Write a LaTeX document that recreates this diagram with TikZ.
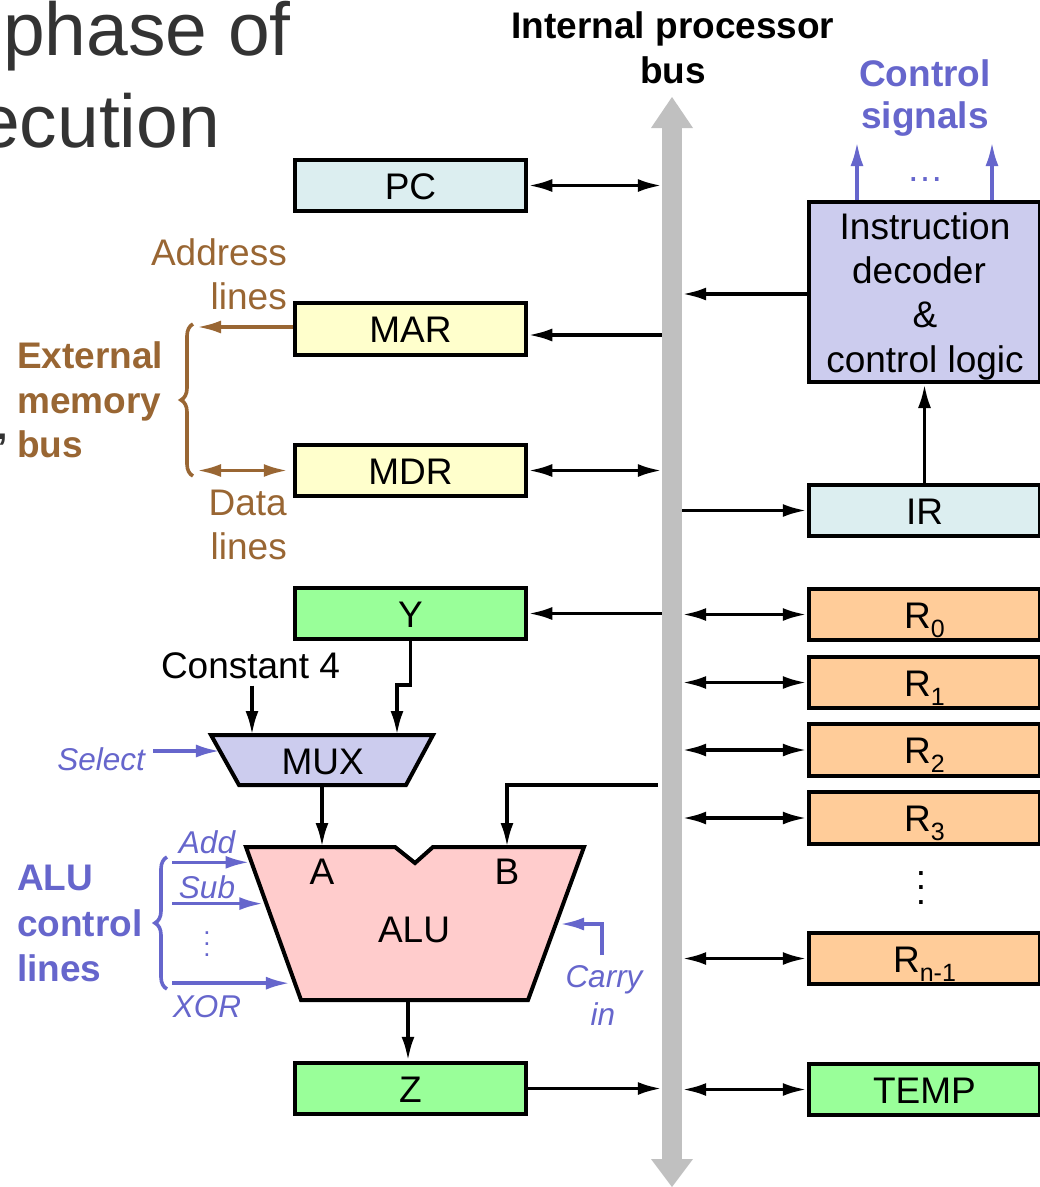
\documentclass[tikz,border=0pt]{standalone}
\usepackage{fontspec}
\setmainfont{Liberation Sans}
\usetikzlibrary{arrows.meta,decorations.pathreplacing,calc}
\definecolor{ctlblue}{HTML}{6666CC}
\definecolor{membrown}{HTML}{996633}
\definecolor{pcfill}{HTML}{DCEEF0}
\definecolor{regfill}{HTML}{FFCC99}
\definecolor{grnfill}{HTML}{99FF99}
\definecolor{memfill}{HTML}{FFFFCC}
\definecolor{alufill}{HTML}{FFCCCC}
\definecolor{muxfill}{HTML}{CCCCEE}
\definecolor{busgray}{HTML}{C0C0C0}
\definecolor{titlegray}{HTML}{333333}
\newcommand{\mainfs}{\fontsize{37}{44}\selectfont}
\newcommand{\smallfs}{\fontsize{31.5}{36}\selectfont}
\newcommand{\rsub}[1]{\raisebox{-9pt}{\fontsize{25}{25}\selectfont #1}}
\begin{document}
\begin{tikzpicture}[x=1pt,y=-1pt,
  >={Latex[length=24pt,width=13pt]},
  box/.style={draw=black,line width=4pt,minimum width=231.5pt,minimum height=51.5pt,inner sep=0pt,text height=27pt,text depth=0pt,font=\mainfs},
  conn/.style={line width=3.6pt,draw=black},
  ctl/.style={line width=3.6pt,draw=ctlblue},
  mem/.style={line width=3.6pt,draw=membrown},
  txt/.style={inner sep=0pt,anchor=base,font=\mainfs},
  btxt/.style={inner sep=0pt,anchor=base,font=\mainfs\bfseries},
  itxt/.style={inner sep=0pt,anchor=base,font=\smallfs\itshape,text=ctlblue},
  outl/.style={draw=black,line width=4pt,line join=miter}
]
\clip (0,0) rectangle (1040,1187);
\fill[white] (0,0) rectangle (1040,1187);

% title fragments
\node[inner sep=0pt,anchor=base west,text=titlegray,font=\fontsize{75}{88}\selectfont] (title1) at (3,55) {phase of};
\node[inner sep=0pt,anchor=base west,text=titlegray,font=\fontsize{75}{88}\selectfont] (title2) at (-22,147) {ecution};
\node[inner sep=0pt,anchor=base west,text=titlegray,font=\mainfs\bfseries] (comma) at (-3,439) {,};

% bus
\node[fill=busgray,minimum width=20pt,minimum height=1032pt,inner sep=0pt] (bus) at (672,644) {};
\fill[busgray] (651,128) -- (672,97) -- (693,128) -- cycle;
\fill[busgray] (651,1159) -- (672,1187) -- (693,1159) -- cycle;
\node[btxt] (bustxt1) at (673,38) {Internal processor};
\node[btxt] (bustxt2) at (673,83) {bus};

% left registers
\node[box,fill=pcfill] (PC) at (410.5,185.5) {PC};
\node[box,fill=memfill] (MAR) at (410.5,329) {MAR};
\node[box,fill=memfill] (MDR) at (410.5,470.5) {MDR};
\node[box,fill=grnfill] (Y) at (410.5,613.5) {Y};
\node[box,fill=grnfill] (Z) at (410.5,1088.5) {Z};

% right side
\node[box,fill=muxfill,minimum height=180pt] (dec) at (924.5,292) {};
\node[txt] (dec1) at (925,239) {Instruction};
\node[txt] (dec2) at (919,283) {decoder};
\node[txt] (dec3) at (925,327) {\&};
\node[txt] (dec4) at (925,372) {control logic};
\node[box,fill=pcfill] (IR) at (924.5,510.5) {IR};
\node[box,fill=regfill] (R0) at (924.5,614.5) {R\rsub{0}};
\node[box,fill=regfill] (R1) at (924.5,682.5) {R\rsub{1}};
\node[box,fill=regfill] (R2) at (924.5,750) {R\rsub{2}};
\node[box,fill=regfill] (R3) at (924.5,818) {R\rsub{3}};
\node[inner sep=0pt,align=center,font=\fontsize{37}{14.5}\selectfont] (rdots) at (921,888) {.\\.\\.};
\node[box,fill=regfill] (Rn) at (924.5,958.5) {R\rsub{n-1}};
\node[box,fill=grnfill] (TEMP) at (924.5,1089.5) {TEMP};

% control signals
\node[btxt,text=ctlblue] (cs1) at (925,86) {Control};
\node[btxt,text=ctlblue] (cs2) at (925,128) {signals};
\node[txt,text=ctlblue] (csdots) at (925,181) {…};
\draw[ctl,->] ([xshift=-67.5pt]dec.north) -- ++(0,-58);
\draw[ctl,->] ([xshift=67.5pt]dec.north) -- ++(0,-58);

% bus connections
\draw[conn,<->] (PC.east) -- (PC.east -| bus.west);
\draw[conn,->] ([yshift=-6pt]MAR.east -| bus.west) -- ([yshift=-6pt]MAR.east);
\draw[conn,<->] (MDR.east) -- (MDR.east -| bus.west);
\draw[conn,->] (Y.east -| bus.west) -- (Y.east);
\draw[conn,->] (Z.east) -- (Z.east -| bus.west);
\draw[conn,->] ([yshift=-2pt]dec.west) -- ([yshift=-2pt]dec.west -| bus.east);
\draw[conn,->] (IR.west -| bus.east) -- (IR.west);
\draw[conn,->] (IR.north) -- (dec.south);
\draw[conn,<->] (R0.west -| bus.east) -- (R0.west);
\draw[conn,<->] (R1.west -| bus.east) -- (R1.west);
\draw[conn,<->] (R2.west -| bus.east) -- (R2.west);
\draw[conn,<->] (R3.west -| bus.east) -- (R3.west);
\draw[conn,<->] (Rn.west -| bus.east) -- (Rn.west);
\draw[conn,<->] (TEMP.west -| bus.east) -- (TEMP.west);

% external memory bus
\coordinate (addrEnd) at (197,327);
\coordinate (dataEnd) at (197,470);
\draw[mem,->] ([yshift=2pt]MAR.west) -- ([yshift=2pt]MAR.west -| addrEnd);
\draw[mem,<->,shorten >=5pt] (MDR.west -| dataEnd) -- (MDR.west);
\draw[mem,decorate,decoration={brace,amplitude=12pt}] (193,476) -- (193,324);
\node[txt,anchor=base east,text=membrown] (addr1) at (287,265) {Address};
\node[txt,anchor=base east,text=membrown] (addr2) at (287,309) {lines};
\node[txt,anchor=base east,text=membrown] (data1) at (287,515) {Data};
\node[txt,anchor=base east,text=membrown] (data2) at (287,559) {lines};
\node[btxt,anchor=base west,text=membrown] (ext1) at (17,368) {External};
\node[btxt,anchor=base west,text=membrown] (ext2) at (17,413) {memory};
\node[btxt,anchor=base west,text=membrown] (ext3) at (17,457) {bus};

% MUX
\coordinate (muxTL) at (211,735);
\coordinate (muxTR) at (433,735);
\coordinate (muxBR) at (406,785);
\coordinate (muxBL) at (239,785);
\draw[outl,fill=muxfill] (muxTL) -- (muxTR) -- (muxBR) -- (muxBL) -- cycle;
\node[txt] (muxlbl) at (322.7,774) {MUX};
\node[txt] (const) at (250.5,678) {Constant 4};
\coordinate (muxInA) at (252,735);
\coordinate (muxInB) at (397,735);
\draw[conn,->,shorten <=7pt] (const.south -| muxInA) -- (muxInA);
\draw[conn,->] (Y.south) -- ++(0,43.5) -| (muxInB);
\node[itxt,anchor=base east] (sel) at (145,770) {Select};
\coordinate (selIn) at ($(muxTL)!0.32!(muxBL)$);
\draw[ctl,->] (sel.east |- selIn) ++(8,0) -- (selIn);

% ALU
\coordinate (aluTL) at (246,847);
\coordinate (aluTR) at (584,847);
\coordinate (aluBR) at (528,1000);
\coordinate (aluBL) at (301,1000);
\draw[outl,fill=alufill] (aluTL) -- (395,847) -- (415,863) -- (433,847) -- (aluTR) -- (aluBR) -- (aluBL) -- cycle;
\node[txt] (alulbl) at (414,942) {ALU};
\node[txt] (Albl) at (322,884) {A};
\node[txt] (Blbl) at (507,884) {B};
\coordinate (muxOut) at (322,785);
\coordinate (aIn) at (322,847);
\coordinate (bIn) at (507,847);
\coordinate (aluOut) at (408,1000);
\coordinate (bRow) at (0,785);
\draw[conn,->] (muxOut) -- (aIn);
\draw[conn,->] ([xshift=-4pt]bus.west |- bRow) -| (bIn);
\draw[conn,->] (aluOut) -- (aluOut |- Z.north);

% ALU control lines
\coordinate (addIn) at ($(aluTL)!0.10!(aluBL)$);
\coordinate (subIn) at ($(aluTL)!0.37!(aluBL)$);
\coordinate (xorIn) at ($(aluTL)!0.89!(aluBL)$);
\coordinate (ctlStart) at (172,0);
\draw[ctl,->,shorten >=2pt] (ctlStart |- addIn) -- (addIn);
\draw[ctl,->,shorten >=3pt] (ctlStart |- subIn) -- (subIn);
\draw[ctl,->,shorten >=5pt] (ctlStart |- xorIn) -- (xorIn);
\node[itxt] (addl) at (207,853) {Add};
\node[itxt] (subl) at (207,898) {Sub};
\node[inner sep=0pt,align=center,text=ctlblue,font=\fontsize{26}{11}\selectfont] (cdots) at (207,944) {.\\.\\.};
\node[itxt] (xorl) at (207,1017) {XOR};
\draw[ctl,decorate,decoration={brace,amplitude=12pt}] (167,989) -- (167,857);
\node[btxt,anchor=base west,text=ctlblue] (alc1) at (17,890) {ALU};
\node[btxt,anchor=base west,text=ctlblue] (alc2) at (17,936) {control};
\node[btxt,anchor=base west,text=ctlblue] (alc3) at (17,981) {lines};

% carry in
\coordinate (carryIn) at (560,924);
\coordinate (carryStart) at (602,955);
\draw[ctl,->] (carryStart) |- (carryIn);
\node[itxt] (carry1) at (604,987) {Carry};
\node[itxt] (carry2) at (603,1025) {in};
\end{tikzpicture}
\end{document}
